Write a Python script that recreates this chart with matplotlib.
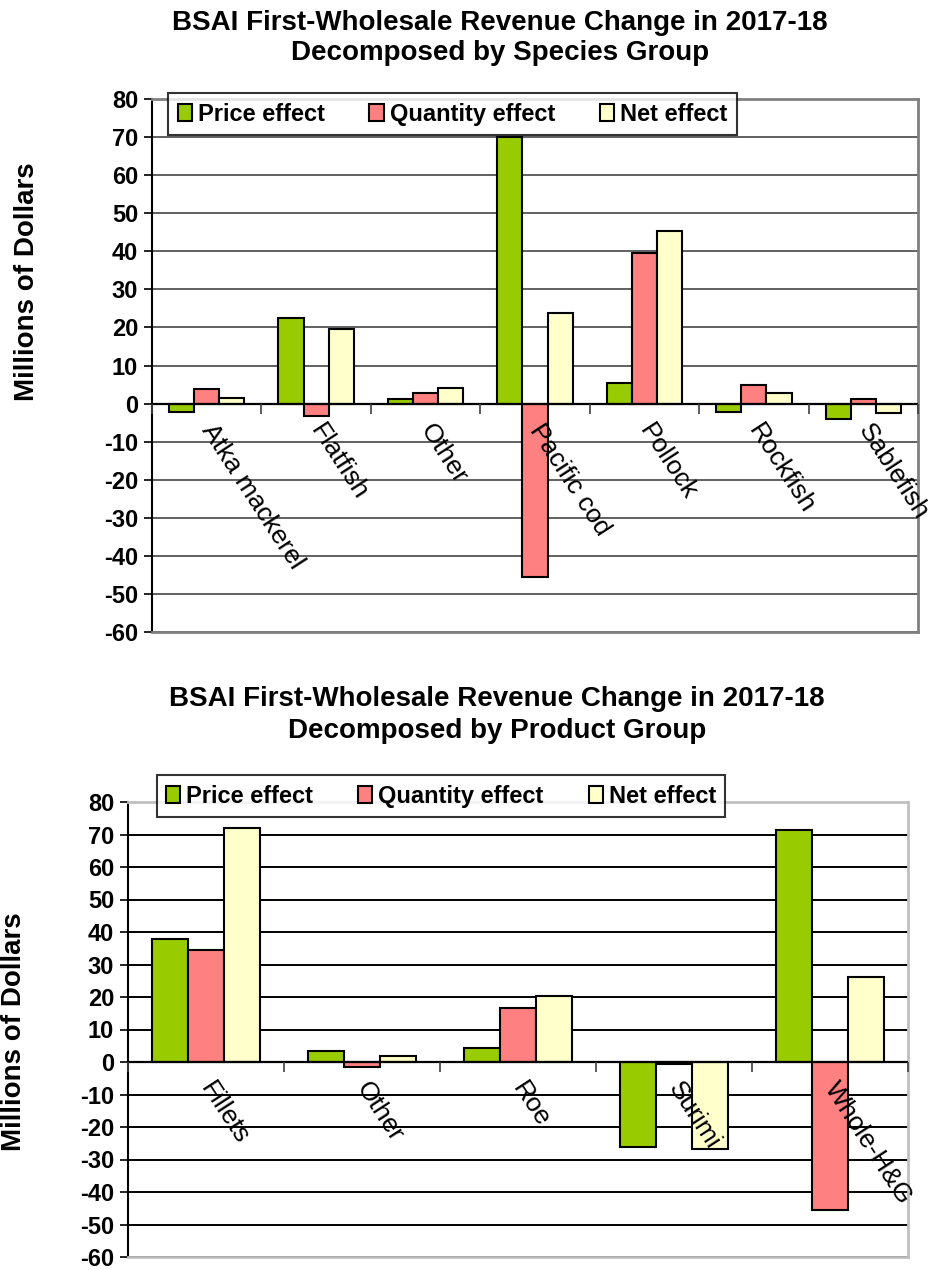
import numpy as np
import matplotlib
matplotlib.use("Agg")
import matplotlib.pyplot as plt

plt.rcParams['font.family'] = ['Liberation Sans', 'DejaVu Sans']

series = ['Price effect', 'Quantity effect', 'Net effect']
colors = ['#99CC00', '#FF8080', '#FFFFCC']

species = ['Atka mackerel', 'Flatfish', 'Other', 'Pacific cod', 'Pollock', 'Rockfish', 'Sablefish']
sp_price = [-2.3, 22.5, 1.3, 69.9, 5.4, -2.3, -4.0]
sp_quantity = [3.7, -3.3, 2.8, -45.6, 39.6, 5.0, 1.3]
sp_net = [1.5, 19.6, 4.0, 23.9, 45.2, 2.8, -2.6]

products = ['Fillets', 'Other', 'Roe', 'Surimi', 'Whole-H&G']
pr_price = [37.7, 3.5, 4.3, -26.0, 71.3]
pr_quantity = [34.4, -1.5, 16.5, -0.6, -45.6]
pr_net = [72.0, 2.0, 20.3, -26.7, 26.3]

yticks = list(range(-60, 81, 10))


def draw(ax, cats, vals, grid_color, frame_color, legend_pos, label_rot, colsp):
    x = np.arange(len(cats))
    w = 0.23
    for i, (name, v) in enumerate(zip(series, vals)):
        ax.bar(x + (i - 1) * w, v, w, color=colors[i], edgecolor='black',
               linewidth=1.5, label=name, zorder=3)
    ax.set_xlim(-0.5, len(cats) - 0.5)
    ax.set_ylim(-60, 80)
    ax.set_yticks(yticks)
    ax.set_yticklabels([str(t) for t in yticks], fontsize=17, fontweight='bold')
    ax.tick_params(axis='y', direction='out', length=6, width=1.2, pad=4)
    ax.tick_params(axis='x', bottom=False, labelbottom=False)
    ax.grid(axis='y', color=grid_color, linewidth=1.4, zorder=0)
    ax.set_axisbelow(True)
    for s in ['top', 'right', 'bottom']:
        ax.spines[s].set_color(frame_color)
        ax.spines[s].set_linewidth(2)
    ax.spines['left'].set_color('black')
    ax.spines['left'].set_linewidth(1.5)
    ax.axhline(0, color='black', linewidth=1.6, zorder=4)

    # category axis sits on the zero line
    sec = ax.secondary_xaxis(60 / 140)
    sec.set_zorder(6)
    sec.spines['bottom'].set_visible(False)
    sec.set_xticks(x)
    sec.set_xticklabels(cats, fontsize=19)
    sec.set_xticks(np.arange(len(cats) + 1) - 0.5, minor=True)
    sec.tick_params(axis='x', which='major', length=0, pad=16)
    sec.tick_params(axis='x', which='minor', length=7, width=1.2, color='#404040')
    for lab in sec.get_xticklabels():
        lab.set_rotation(label_rot)
        lab.set_rotation_mode('anchor')
        lab.set_ha('left')
        lab.set_va('center')

    leg = ax.legend(loc='lower left', bbox_to_anchor=legend_pos, ncol=3,
                    frameon=True, fancybox=False, edgecolor='black',
                    prop={'weight': 'bold', 'size': 17}, handlelength=0.6,
                    handleheight=0.7, handletextpad=0.25, columnspacing=colsp,
                    borderpad=0.4, borderaxespad=0)
    leg.get_frame().set_linewidth(1.5)
    leg.set_zorder(10)
    for h in leg.legend_handles:
        h.set_linewidth(1.5)


fig = plt.figure(figsize=(9.3, 12.7), dpi=100)

ax1 = fig.add_axes([152 / 930, 1 - 632 / 1270, 766 / 930, 533 / 1270])
draw(ax1, species, [sp_price, sp_quantity, sp_net], '#606060', '#808080',
     (0.021, 0.9325), -57, 1.9)
fig.text(500 / 930, 1 - 38 / 1270,
         'BSAI First-Wholesale Revenue Change in 2017-18\nDecomposed by Species Group',
         ha='center', va='center', fontsize=20, fontweight='bold', linespacing=1.25)
fig.text(27 / 930, 1 - 282 / 1270, 'Millions of Dollars', rotation=90,
         ha='center', va='center', fontsize=20, fontweight='bold')

ax2 = fig.add_axes([128 / 930, 1 - 1257 / 1270, 780 / 930, 455 / 1270])
draw(ax2, products, [pr_price, pr_quantity, pr_net], 'black', '#C0C0C0',
     (0.037, 0.967), -57, 1.9)
fig.text(497 / 930, 1 - 715 / 1270,
         'BSAI First-Wholesale Revenue Change in 2017-18\nDecomposed by Product Group',
         ha='center', va='center', fontsize=20, fontweight='bold', linespacing=1.25)
fig.text(14 / 930, 1 - 1032 / 1270, 'Millions of Dollars', rotation=90,
         ha='center', va='center', fontsize=20, fontweight='bold')

fig.savefig('out.png', dpi=100)
